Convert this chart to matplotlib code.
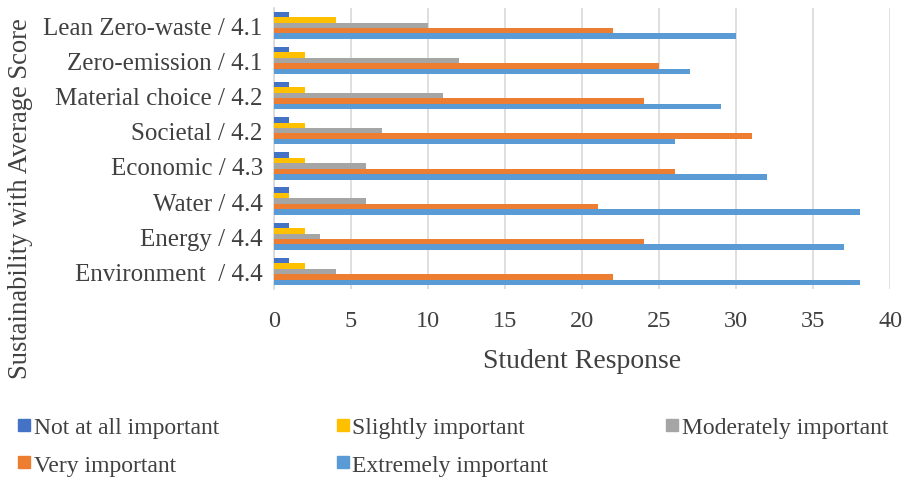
import matplotlib.pyplot as plt
import numpy as np
from matplotlib.lines import Line2D

plt.rcParams['font.family'] = ['Liberation Serif', 'DejaVu Serif']

# categories bottom -> top
categories = ["Environment  / 4.4", "Energy / 4.4", "Water / 4.4", "Economic / 4.3",
              "Societal / 4.2", "Material choice / 4.2", "Zero-emission / 4.1",
              "Lean Zero-waste / 4.1"]
not_at_all = [1, 1, 1, 1, 1, 1, 1, 1]
slightly = [2, 2, 1, 2, 2, 2, 2, 4]
moderately = [4, 3, 6, 6, 7, 11, 12, 10]
very = [22, 24, 21, 26, 31, 24, 25, 22]
extremely = [38, 37, 38, 32, 26, 29, 27, 30]

series = [("Not at all important", not_at_all, "#4472C4"),
          ("Slightly important", slightly, "#FFC000"),
          ("Moderately important", moderately, "#A5A5A5"),
          ("Very important", very, "#ED7D31"),
          ("Extremely important", extremely, "#5B9BD5")]

fig = plt.figure(figsize=(9.04, 4.81), dpi=100)
ax = fig.add_axes([0.303, 0.397, 0.682, 0.585])

y = np.arange(len(categories))
h = 0.155
for i, (name, vals, col) in enumerate(series):
    ax.barh(y + (2 - i) * h, vals, height=h, color=col, label=name, zorder=3)

ax.set_xlim(0, 40)
ax.set_ylim(-0.5, 7.5)
ax.set_xticks(range(0, 41, 5))
ax.set_yticks(y)
ax.set_yticklabels(categories, fontsize=18)
ax.tick_params(axis='x', labelsize=17.5, length=0, pad=15)
ax.tick_params(axis='y', length=0, pad=8)
for t in ax.get_xticklabels() + ax.get_yticklabels():
    t.set_color('#404040')
ax.grid(axis='x', color='#D9D9D9', linewidth=1.2, zorder=0)
for s in ['top', 'right', 'bottom']:
    ax.spines[s].set_visible(False)
ax.spines['left'].set_color('#D9D9D9')
ax.spines['left'].set_linewidth(1.2)

ax.set_xlabel("Student Response", fontsize=20, color='#404040', labelpad=12)
fig.text(0.023, 0.588, "Sustainability with Average Score", rotation=90,
         va='center', ha='center', fontsize=19.2, color='#404040')

handles = [Line2D([], [], marker='s', linestyle='', color=c, markersize=8.5)
           for _, _, c in series]
labels = [n for n, _, _ in series]
order = [0, 3, 1, 4, 2]
fig.legend([handles[k] for k in order], [labels[k] for k in order],
           loc='lower left', bbox_to_anchor=(-0.006, -0.035), ncol=3, frameon=False,
           fontsize=17, handletextpad=0.05, columnspacing=4.9,
           labelcolor='#404040', handlelength=0.7, labelspacing=0.68)

fig.savefig("out.png", dpi=100)
